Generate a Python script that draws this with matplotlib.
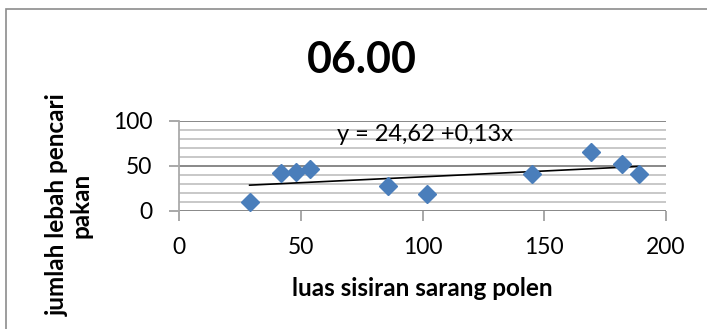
import matplotlib
matplotlib.use('Agg')
import matplotlib.pyplot as plt
import numpy as np
from matplotlib.patches import Rectangle

# luas sisiran sarang polen vs jumlah lebah pencari pakan, jam 06.00
luas_sisiran = [29, 42, 48, 54, 86, 102, 145, 169, 182, 189]
jumlah_lebah = [10, 42, 43, 46, 28, 19, 41, 65, 52, 41]
intercept, slope = 24.62, 0.13
x_ticks = [0, 50, 100, 150, 200]
y_ticks = [0, 50, 100]

plt.rcParams['font.family'] = ['Lato', 'DejaVu Sans']

W, H = 707, 329
fig = plt.figure(figsize=(W / 100, H / 100), dpi=100)
ax = fig.add_axes([179 / W, 1 - 210.7 / H, 487 / W, 90 / H])

# chart border (cropped at right/bottom)
fig.patches.append(Rectangle((6 / W, -0.1), 1.2, 1 - 9 / H + 0.1,
                             transform=fig.transFigure, fill=False,
                             edgecolor='#8c8c8c', linewidth=1.2))

ax.set_xlim(0, 200)
ax.set_ylim(0, 100)
ax.set_xticks(x_ticks)
ax.set_yticks(y_ticks)
ax.set_yticks(np.arange(0, 101, 10), minor=True)
ax.grid(True, which='major', axis='y', color='#888888', linewidth=1.4)
ax.grid(True, which='minor', axis='y', color='#c4c4c4', linewidth=1.3)
ax.tick_params(axis='y', which='minor', length=0)
ax.tick_params(axis='both', which='major', length=7, width=1.2, color='#999999',
               labelsize=16.5)
ax.tick_params(axis='y', pad=12)
ax.tick_params(axis='x', pad=12)
ax.set_axisbelow(True)

for s in ['top', 'right', 'bottom']:
    ax.spines[s].set_visible(False)
ax.spines['left'].set_color('#aaaaaa')
ax.spines['left'].set_linewidth(1.3)

# trendline
xs = np.array([min(luas_sisiran), max(luas_sisiran)])
ax.plot(xs, intercept + slope * xs, color='black', linewidth=1.2, zorder=3)

ax.plot(luas_sisiran, jumlah_lebah, linestyle='none', marker='D',
        markersize=9.5, color='#4a7ebb', zorder=4)

ax.text(101, 85, 'y = 24,62 +0,13x', fontsize=17, ha='center', va='center')

fig.text(422.5 / W, 1 - 288 / H, 'luas sisiran sarang polen', fontsize=17.5,
         fontweight='bold', ha='center', va='center')
fig.text(69 / W, 1 - 205 / H, 'jumlah lebah pencari\npakan', fontsize=17.5,
         fontweight='bold', ha='center', va='center', rotation=90,
         multialignment='center', linespacing=1.0)

fig.text(362 / W, 1 - 60 / H, '06.00', fontsize=31, fontweight='bold',
         ha='center', va='center')

fig.savefig('out.png', dpi=100)
